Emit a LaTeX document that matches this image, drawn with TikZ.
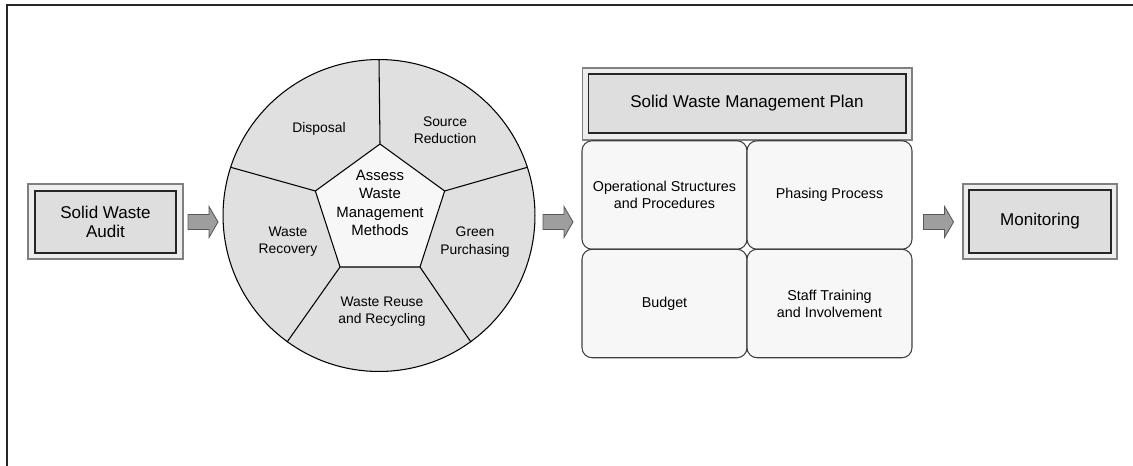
\documentclass[tikz,border=0pt]{standalone}
\usepackage{fontspec}
\setmainfont{Liberation Sans}
\usetikzlibrary{shapes.geometric}

\begin{document}
\begin{tikzpicture}[x=0.02cm, y=0.02cm,
  outerbox/.style={draw=black!50, fill=black!7, line width=0.6pt, inner sep=0},
  innerbox/.style={draw=black!85, fill=black!13, line width=0.6pt, inner sep=0, align=center, font=\fontsize{9.7}{11}\selectfont},
  part/.style={draw=black!75, fill=black!3, rounded corners=0.2cm, line width=0.6pt, minimum width=3.3cm, minimum height=2.17cm, align=center, font=\fontsize{8.15}{9.8}\selectfont},
  sector/.style={align=center, font=\fontsize{7.9}{9.8}\selectfont},
  fatarrow/.pic={\draw[draw=black!65, fill=black!38, line width=0.5pt] (-15,-7.5) -- (6,-7.5) -- (6,-15.5) -- (15,0) -- (6,15.5) -- (6,7.5) -- (-15,7.5) -- cycle;}]
\useasboundingbox (0,0) rectangle (1133,-466);
\draw[black!85, line width=1.1pt] (7,-466) -- (7,-5) -- (1133,-5);

% audit
\node[outerbox, minimum width=3.1cm, minimum height=1.5cm] (audit) at (105.5,-221.5) {};
\node[innerbox, minimum width=2.82cm, minimum height=1.24cm] (audittxt) at (105.5,-222) {Solid Waste\\Audit};
\pic at (203,-222) {fatarrow};

% methods wheel
\node[circle, draw, fill=black!12, line width=0.6pt, minimum size=6.24cm, inner sep=0] (wheel) at (379,-215.5) {};
\node[regular polygon, regular polygon sides=5, minimum size=2.72cm, inner sep=0] (hub) at (380,-212) {};
\foreach \i/\a in {1/90,2/162,3/234,4/306,5/18}
  \draw[line width=0.6pt] (hub.corner \i) -- (wheel.\a);
\node[regular polygon, regular polygon sides=5, minimum size=2.72cm, inner sep=0, draw, fill=black!3, line width=0.6pt] at (380,-212) {};
\node[sector, font=\fontsize{8.5}{10.4}\selectfont] (hubtxt) at (380,-203) {Assess\\Waste\\Management\\Methods};
\node[sector] (s1) at (319,-129) {Disposal};
\node[sector] (s2) at (445,-130) {Source\\Reduction};
\node[sector] (s3) at (475,-242) {Green\\Purchasing};
\node[sector] (s4) at (382,-312) {Waste Reuse\\and Recycling};
\node[sector] (s5) at (288,-242) {Waste\\Recovery};
\pic at (558,-222) {fatarrow};

% plan
\node[outerbox, minimum width=6.6cm, minimum height=1.44cm] (plan) at (747,-104) {};
\node[innerbox, minimum width=6.36cm, minimum height=1.18cm] (plantxt) at (747,-103.5) {Solid Waste Management Plan};
\node[part] (p1) at (664.5,-195) {Operational Structures\\and Procedures};
\node[part] (p2) at (829.5,-195) {Phasing Process};
\node[part] (p3) at (664.5,-303.5) {Budget};
\node[part] (p4) at (829.5,-303.5) {Staff Training\\and Involvement};
\pic at (938.5,-222) {fatarrow};

% monitoring
\node[outerbox, minimum width=3.08cm, minimum height=1.5cm] (mon) at (1040,-221.5) {};
\node[innerbox, minimum width=2.84cm, minimum height=1.26cm] (montxt) at (1040,-221.5) {Monitoring};
\end{tikzpicture}
\end{document}
